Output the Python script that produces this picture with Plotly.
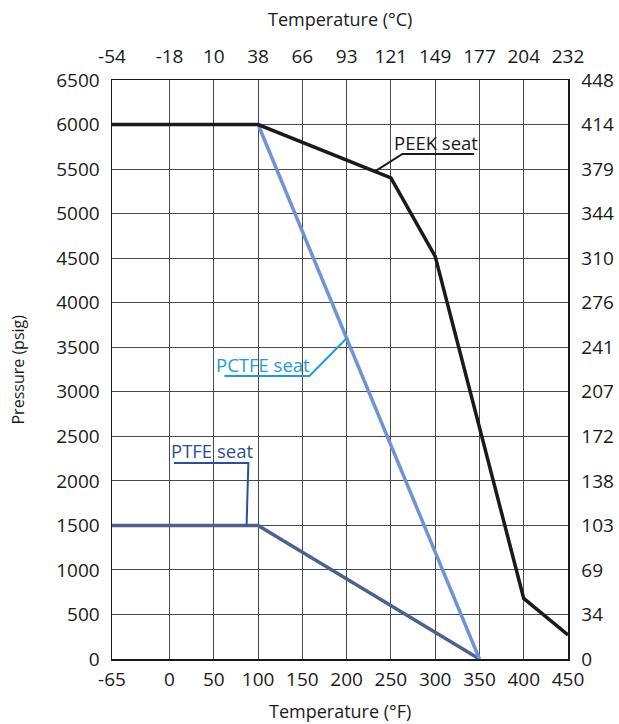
import plotly.graph_objects as go

# Axis ticks
temp_f_ticks = [-65, 0, 50, 100, 150, 200, 250, 300, 350, 400, 450]
temp_c_labels = ["-54", "-18", "10", "38", "66", "93", "121", "149", "177", "204", "232"]
psig_ticks = [0, 500, 1000, 1500, 2000, 2500, 3000, 3500, 4000, 4500, 5000, 5500, 6000, 6500]
bar_labels = ["0", "34", "69", "103", "138", "172", "207", "241", "276", "310", "344", "379", "414", "448"]

# Series
peek_x = [-65, 100, 250, 300, 400, 450]
peek_y = [6000, 6000, 5400, 4520, 680, 270]
pctfe_x = [100, 350]
pctfe_y = [6000, 0]
ptfe_x = [-65, 100, 350]
ptfe_y = [1500, 1500, 0]

# Labels: text, text position, leader path (underline start, underline end, point on curve)
label_names = ["PEEK seat", "PCTFE seat", "PTFE seat"]
label_pos = [(301, 5800), (105, 3305), (48, 2345)]
label_paths = [
    [(344, 5669), (263, 5669), (232, 5475)],
    [(62, 3177), (158, 3177), (200, 3600)],
    [(5, 2200), (89, 2200), (87, 1500)],
]
label_colors = ["#1a1a1a", "#1e9bd7", "#2b4f97"]

FONT = "Open Sans"
XR = [-65, 450]
YR = [0, 6500]

fig = go.Figure()
fig.add_trace(go.Scatter(x=ptfe_x, y=ptfe_y, mode="lines",
                         line=dict(color="#4d618f", width=3.5), hoverinfo="skip"))
fig.add_trace(go.Scatter(x=pctfe_x, y=pctfe_y, mode="lines",
                         line=dict(color="#6f93d4", width=3.5), hoverinfo="skip"))
fig.add_trace(go.Scatter(x=peek_x, y=peek_y, mode="lines",
                         line=dict(color="#1a1a1a", width=3.5), hoverinfo="skip"))
# invisible trace to activate secondary axes
fig.add_trace(go.Scatter(x=XR, y=YR, xaxis="x2", yaxis="y2", mode="lines",
                         line=dict(width=0), opacity=0, hoverinfo="skip"))

for name, pos, path, col in zip(label_names, label_pos, label_paths, label_colors):
    fig.add_annotation(x=pos[0], y=pos[1], text=name, showarrow=False,
                       xanchor="center", yanchor="middle",
                       font=dict(family=FONT, size=18.5, color=col))
    d = "M " + " L ".join(f"{p[0]} {p[1]}" for p in path)
    fig.add_shape(type="path", path=d, xref="x", yref="y",
                  line=dict(color=col, width=2))

# Axis titles
title_font = dict(family=FONT, size=18, color="#1a1a1a")
fig.add_annotation(text="Temperature (°F)", xref="paper", yref="paper", x=0.5, y=0,
                   xanchor="center", yanchor="middle", yshift=-52, showarrow=False, font=title_font)
fig.add_annotation(text="Temperature (°C)", xref="paper", yref="paper", x=0.5, y=1,
                   xanchor="center", yanchor="middle", yshift=61, showarrow=False, font=title_font)
fig.add_annotation(text="Pressure (psig)", xref="paper", yref="paper", x=0, y=0.5,
                   xanchor="center", yanchor="middle", xshift=-95, textangle=-90, showarrow=False,
                   font=dict(family=FONT, size=16, color="#1a1a1a"))

axis_common = dict(showgrid=True, gridcolor="#4a4a4a", gridwidth=1, zeroline=False,
                   showline=True, linecolor="#1a1a1a", linewidth=1.5, ticks="",
                   automargin=False,
                   tickfont=dict(family=FONT, size=19, color="#1a1a1a"))

fig.update_layout(
    width=619, height=724,
    margin=dict(l=112, r=51, t=80, b=65),
    paper_bgcolor="white", plot_bgcolor="white",
    showlegend=False,
    xaxis=dict(range=XR, tickvals=temp_f_ticks, ticktext=[str(v) for v in temp_f_ticks],
               ticklabelstandoff=3, **axis_common),
    xaxis2=dict(range=XR, tickvals=temp_f_ticks, ticktext=temp_c_labels, overlaying="x", side="top",
                ticklabelstandoff=8, **axis_common),
    yaxis=dict(range=YR, tickvals=psig_ticks, ticktext=[str(v) for v in psig_ticks],
               ticklabelstandoff=7, **axis_common),
    yaxis2=dict(range=YR, tickvals=psig_ticks, ticktext=bar_labels, overlaying="y", side="right",
                ticklabelstandoff=8, **axis_common),
)

# remove the default 8px page margin so the 619x724 figure fills the window exactly
fig.write_html("out.html",
               config={"displayModeBar": False, "staticPlot": True},
               post_script="document.body.style.margin='0';document.body.style.overflow='hidden';")
